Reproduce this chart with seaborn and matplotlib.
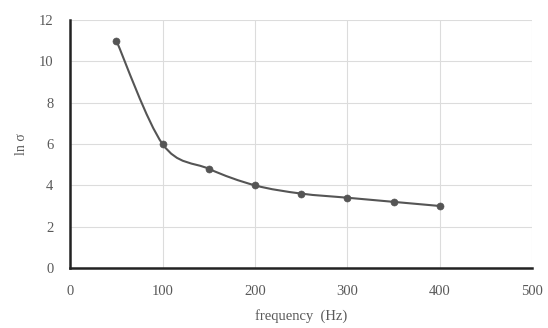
import numpy as np
import matplotlib
matplotlib.use("Agg")
import matplotlib.pyplot as plt
import seaborn as sns
import pandas as pd
from matplotlib.path import Path
from matplotlib.patches import PathPatch

freq = [50, 100, 150, 200, 250, 300, 350, 400]
ln_sigma = [11.0, 6.0, 4.8, 4.0, 3.6, 3.4, 3.2, 3.0]
x_ticks = [0, 100, 200, 300, 400, 500]
y_ticks = [0, 2, 4, 6, 8, 10, 12]

sns.set_style("white")
plt.rcParams['font.family'] = ['Liberation Serif', 'DejaVu Serif']

df = pd.DataFrame({"freq": freq, "val": ln_sigma})

fig = plt.figure(figsize=(5.48, 3.28), dpi=100)
ax = fig.add_axes([0.128, 0.183, 0.843, 0.756])

# smoothed connecting line (Catmull-Rom style Bezier, like Excel smoothing)
pts = np.column_stack([df["freq"].to_numpy(float), df["val"].to_numpy(float)])
verts = [tuple(pts[0])]
codes = [Path.MOVETO]
n = len(pts)
for i in range(n - 1):
    p0 = pts[i - 1] if i > 0 else pts[i]
    p1 = pts[i]
    p2 = pts[i + 1]
    p3 = pts[i + 2] if i + 2 < n else pts[i + 1]
    c1 = p1 + (p2 - p0) / 6.0
    c2 = p2 - (p3 - p1) / 6.0
    verts += [tuple(c1), tuple(c2), tuple(p2)]
    codes += [Path.CURVE4] * 3
ax.add_patch(PathPatch(Path(verts, codes), facecolor="none", edgecolor="#555555",
                       lw=1.5, transform=ax.transData, zorder=3))

sns.scatterplot(data=df, x="freq", y="val", ax=ax, color="#555555", s=26,
                edgecolor="#555555", zorder=4, legend=False)

ax.set_xlim(0, 500)
ax.set_ylim(0, 12)
ax.set_xticks(x_ticks)
ax.set_yticks(y_ticks)
ax.grid(True, color="#dcdcdc", lw=0.8)
ax.set_axisbelow(True)
for s in ["top", "right"]:
    ax.spines[s].set_visible(False)
for s in ["left", "bottom"]:
    ax.spines[s].set_color("#222222")
    ax.spines[s].set_linewidth(1.8)
ax.tick_params(axis="both", length=0, labelsize=10.5, labelcolor="#595959")
ax.tick_params(axis="y", pad=12)
ax.tick_params(axis="x", pad=12)
ax.set_xlabel("frequency  (Hz)", fontsize=10.5, color="#595959", labelpad=8)
ax.set_ylabel("ln σ", fontsize=10, color="#595959", labelpad=8)

fig.savefig("out.png", dpi=100)
